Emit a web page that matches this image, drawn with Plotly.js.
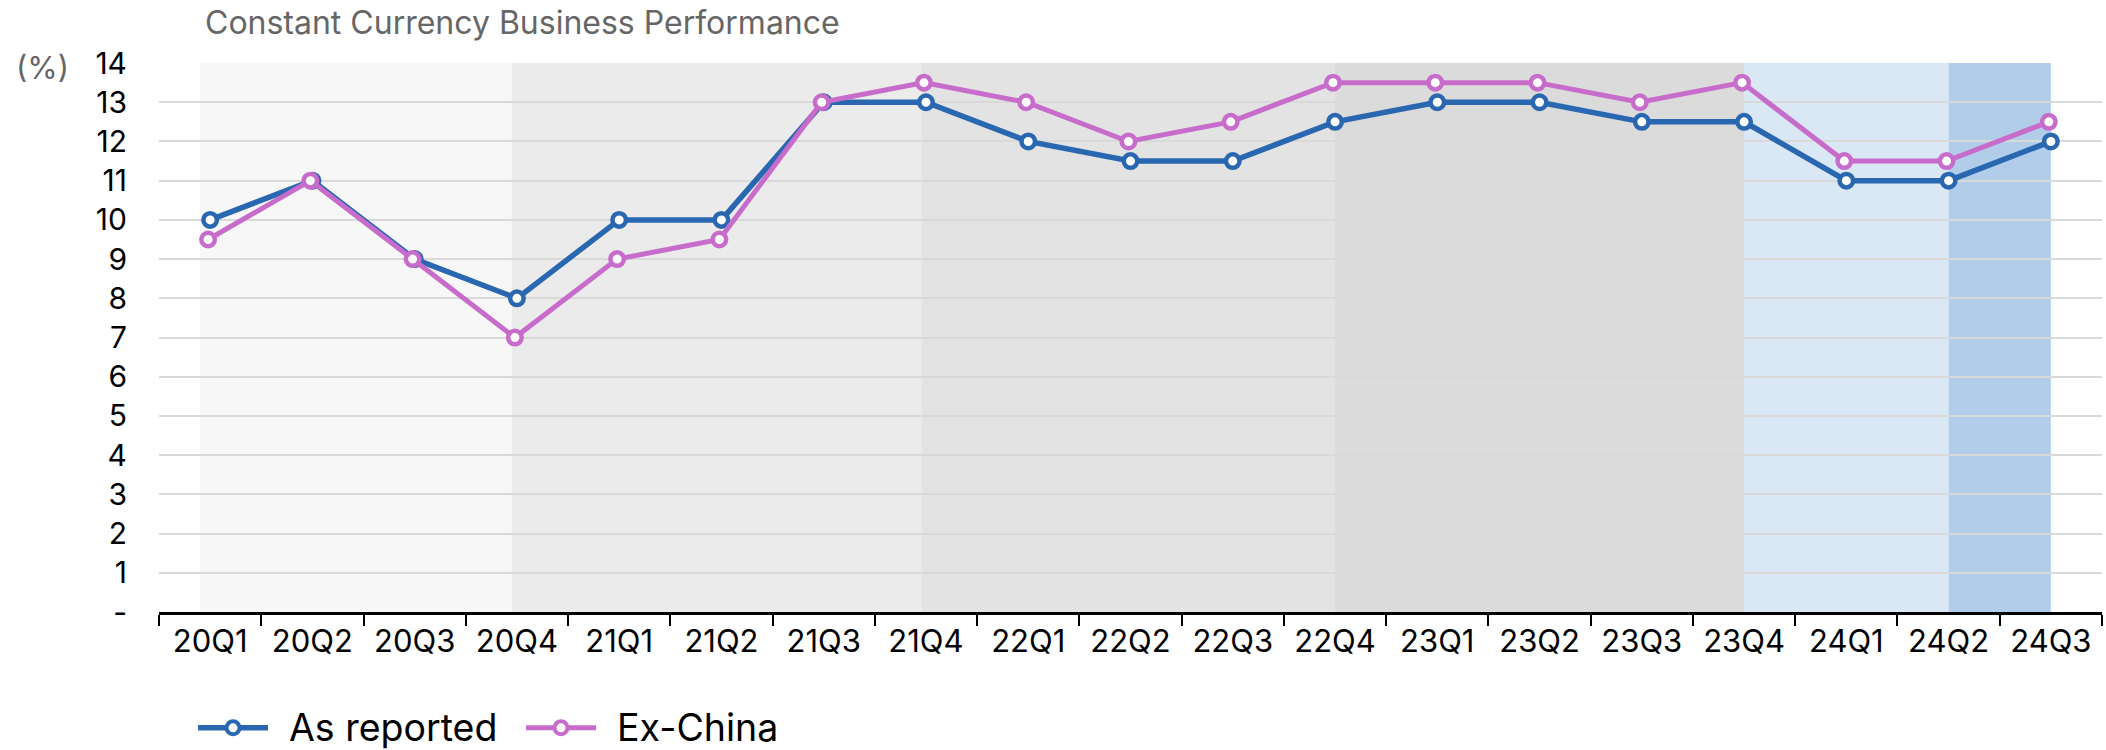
<!DOCTYPE html>
<html>
<head>
<meta charset="utf-8">
<script src="https://cdn.plot.ly/plotly-3.0.1.min.js"></script>
<style>
  html, body { margin: 0; padding: 0; background: #ffffff; }
  #chart { width: 2106px; height: 750px; }
</style>
</head>
<body>
<div id="chart"></div>
<script>
// ---- Data ----
const quarters = ["20Q1","20Q2","20Q3","20Q4","21Q1","21Q2","21Q3","21Q4","22Q1","22Q2","22Q3","22Q4","23Q1","23Q2","23Q3","23Q4","24Q1","24Q2","24Q3"];
const asReported = [10, 11, 9, 8, 10, 10, 13, 13, 12, 11.5, 11.5, 12.5, 13, 13, 12.5, 12.5, 11, 11, 12];
const exChina = [9.5, 11, 9, 7, 9, 9.5, 13, 13.5, 13, 12, 12.5, 13.5, 13.5, 13.5, 13, 13.5, 11.5, 11.5, 12.5];
const yTickVals = [0,1,2,3,4,5,6,7,8,9,10,11,12,13,14];
const yTickText = ["-","1","2","3","4","5","6","7","8","9","10","11","12","13","14"];
const seriesNames = ["As reported", "Ex-China"];

// ---- Styles ----
const BLUE = "#2a67b1";
const PINK = "#c86ccc";
const FONT = "Inter, 'Noto Sans', sans-serif";

const traces = [
  {
    type: "scatter", mode: "lines+markers", name: seriesNames[0],
    x: quarters, y: asReported, xaxis: "x", yaxis: "y",
    line: { color: BLUE, width: 5.5 },
    marker: { symbol: "circle", size: 13.5, color: "#ffffff", line: { color: BLUE, width: 4.5 } },
    showlegend: false, cliponaxis: false, hoverinfo: "x+y"
  },
  {
    type: "scatter", mode: "lines+markers", name: seriesNames[1],
    x: quarters, y: exChina, xaxis: "x2", yaxis: "y",
    line: { color: PINK, width: 5 },
    marker: { symbol: "circle", size: 13.5, color: "#ffffff", line: { color: PINK, width: 4.5 } },
    showlegend: false, cliponaxis: false, hoverinfo: "x+y"
  }
];

// background period bands (x in category-index units, spanning full y range)
const bandEdges = [-0.1, 2.95, 6.96, 11, 15, 17, 18];
const bandColors = ["#f7f7f7", "#ebebeb", "#e3e3e3", "#dbdbdb", "#dae7f4", "#b1cdea"];
const shapes = [];
for (let i = 0; i < bandColors.length; i++) {
  shapes.push({
    type: "rect", layer: "below", xref: "x", yref: "y",
    x0: bandEdges[i], x1: bandEdges[i + 1], y0: 0, y1: 14,
    fillcolor: bandColors[i], line: { width: 0 }
  });
}

// custom legend (paper coordinates)
const legY = -0.211;
const legendItems = [
  { color: BLUE, x0: 0.0201, xc: 0.0381, x1: 0.0561, xt: 0.0664, lw: 5.5 },
  { color: PINK, x0: 0.1889, xc: 0.2069, x1: 0.2249, xt: 0.2352, lw: 5 }
];
const annotations = [
  {
    xref: "paper", yref: "paper", x: -0.0745, y: 0.9915, xanchor: "left", yanchor: "middle",
    text: "(%)", showarrow: false, font: { family: FONT, size: 31, color: "#666666" }
  }
];
legendItems.forEach((it, i) => {
  shapes.push({
    type: "line", xref: "paper", yref: "paper", x0: it.x0, x1: it.x1, y0: legY, y1: legY,
    line: { color: it.color, width: it.lw }, layer: "above"
  });
  shapes.push({
    type: "circle", xref: "paper", yref: "paper", xsizemode: "pixel", ysizemode: "pixel",
    xanchor: it.xc, yanchor: legY, x0: -6.5, x1: 6.5, y0: -6.5, y1: 6.5,
    fillcolor: "#ffffff", line: { color: it.color, width: 4 }, layer: "above"
  });
  annotations.push({
    xref: "paper", yref: "paper", x: it.xt, y: legY, xanchor: "left", yanchor: "middle",
    text: seriesNames[i], showarrow: false, borderpad: 0,
    font: { family: FONT, size: 37.5, color: "#000000" }
  });
});

const layout = {
  width: 2106, height: 750,
  margin: { l: 159, r: 4, t: 63, b: 138, pad: 0 },
  paper_bgcolor: "#ffffff", plot_bgcolor: "#ffffff",
  font: { family: FONT, color: "#000000" },
  title: {
    text: "Constant Currency Business Performance",
    x: 205 / 2106, xref: "container", xanchor: "left",
    y: 1 - 23 / 750, yref: "container", yanchor: "middle",
    font: { family: FONT, size: 32, color: "#666666" }
  },
  showlegend: false,
  xaxis: {
    type: "category", categoryorder: "array", categoryarray: quarters,
    range: [-0.5, 18.5], tickson: "boundaries",
    ticks: "outside", ticklen: 11, tickwidth: 2, tickcolor: "#000000",
    showline: true, linecolor: "#000000", linewidth: 2.5,
    showgrid: false, zeroline: false,
    tickfont: { family: FONT, size: 31, color: "#000000" },
    fixedrange: true
  },
  xaxis2: {
    type: "category", categoryorder: "array", categoryarray: quarters,
    overlaying: "x", range: [-0.48, 18.52], visible: false, fixedrange: true
  },
  yaxis: {
    range: [0, 14.001], tickvals: yTickVals, ticktext: yTickText,
    showgrid: true, gridcolor: "#d9d9d9", gridwidth: 2,
    zeroline: false, showline: false, ticks: "",
    ticklabelstandoff: 31,
    tickfont: { family: FONT, size: 30, color: "#000000" },
    fixedrange: true
  },
  shapes: shapes,
  annotations: annotations
};

Plotly.newPlot("chart", traces, layout, { displayModeBar: false, staticPlot: true });
</script>
</body>
</html>
